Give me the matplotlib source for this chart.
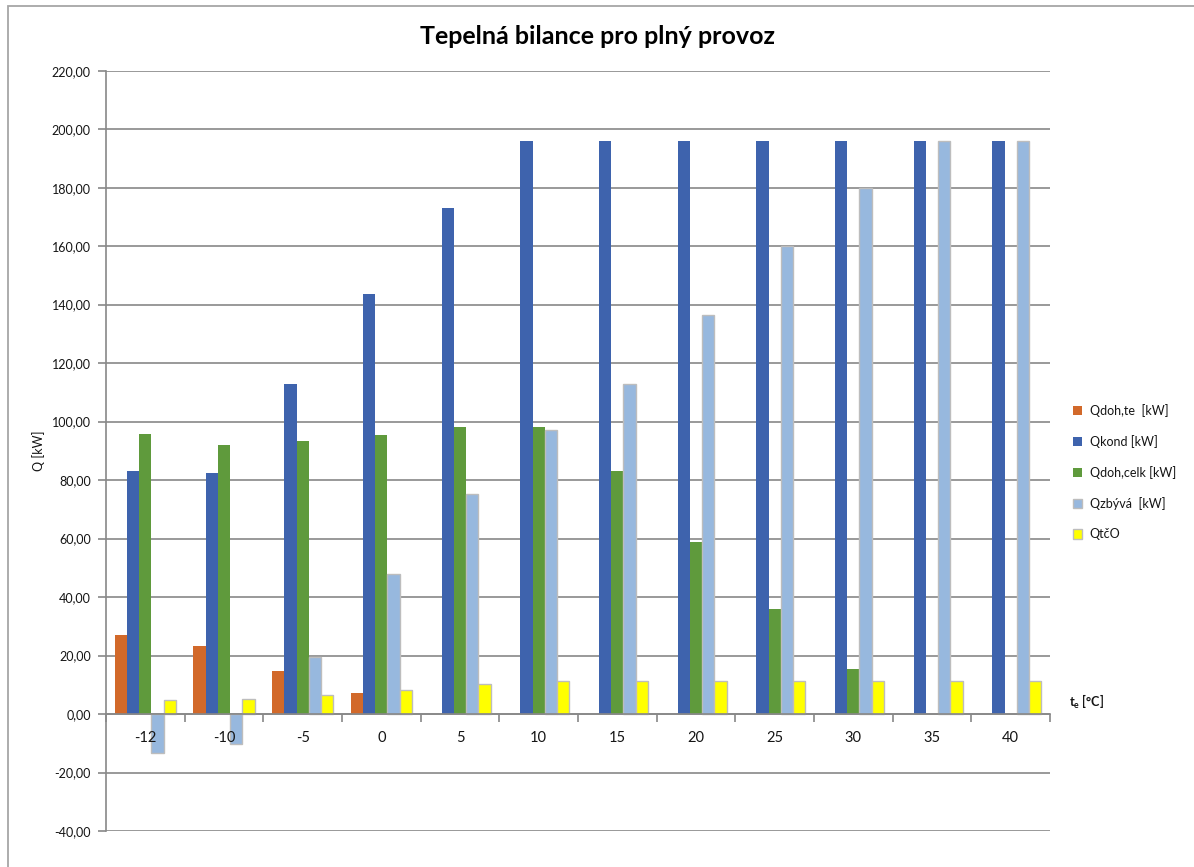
import matplotlib
matplotlib.use("Agg")
import matplotlib.pyplot as plt
import numpy as np
from matplotlib.patches import Rectangle
from matplotlib.ticker import FixedLocator, FuncFormatter, NullFormatter
from matplotlib.transforms import offset_copy

plt.rcParams['font.family'] = ['Lato', 'DejaVu Sans']

categories = ['-12', '-10', '-5', '0', '5', '10', '15', '20', '25', '30', '35', '40']

q_doh_te = [27.1, 23.3, 14.7, 7.2, 0, 0, 0, 0, 0, 0, 0, 0]
q_kond = [83.2, 82.5, 113.0, 143.5, 173.2, 196.0, 196.0, 196.0, 196.0, 196.0, 196.0, 196.0]
q_doh_celk = [95.9, 92.1, 93.5, 95.5, 98.0, 98.0, 83.2, 59.0, 36.0, 15.4, 0, 0]
q_zbyva = [-13.4, -10.3, 19.5, 48.0, 75.3, 97.3, 112.7, 136.6, 160.0, 180.0, 196.0, 196.0]
q_tco = [4.8, 5.0, 6.5, 8.2, 10.3, 11.3, 11.3, 11.3, 11.3, 11.3, 11.3, 11.3]

series = [
    ('Qdoh,te  [kW]', q_doh_te, '#D2692A', 'none'),
    ('Qkond [kW]', q_kond, '#3E63AD', 'none'),
    ('Qdoh,celk [kW]', q_doh_celk, '#5F9A3C', 'none'),
    ('Qzbývá  [kW]', q_zbyva, '#97B8DE', '#BDBDBD'),
    ('QtčO', q_tco, '#FFFF00', '#BDBDBD'),
]

W, H = 1194, 867
fig = plt.figure(figsize=(W / 100, H / 100), dpi=100)
ax = fig.add_axes([106 / W, 1 - 831 / H, (1050 - 106) / W, (831 - 70.7) / H])

x = np.arange(len(categories))
bw = 0.156
n = len(series)
for i, (label, vals, color, edge) in enumerate(series):
    offs = (i - (n - 1) / 2) * bw
    ax.bar(x + offs, vals, width=bw, color=color, edgecolor=edge,
           linewidth=1.0 if edge != 'none' else 0, label=label, zorder=3)

grid_c = '#888888'
txt_c = '#151515'
ax.set_xlim(-0.5, len(categories) - 0.5)
ax.set_ylim(-40, 220)
ax.set_yticks(np.arange(-40, 221, 20))
ax.yaxis.set_major_formatter(FuncFormatter(lambda v, p: f"{v:.2f}".replace('.', ',')))
ax.grid(axis='y', color=grid_c, linewidth=1.2, zorder=0)
ax.tick_params(axis='y', length=6, width=1.2, color=grid_c, labelsize=9,
               labelcolor=txt_c, pad=5)

for s in ['top', 'right']:
    ax.spines[s].set_visible(False)
ax.spines['left'].set_color(grid_c)
ax.spines['left'].set_linewidth(1.2)
ax.spines['bottom'].set_position(('data', 0))
ax.spines['bottom'].set_color(grid_c)
ax.spines['bottom'].set_linewidth(1.2)
ax.spines['bottom'].set_zorder(4)

# boundary ticks on the zero line; category names drawn above the bars
ax.xaxis.set_major_locator(FixedLocator(np.arange(-0.5, len(categories), 1.0)))
ax.xaxis.set_major_formatter(NullFormatter())
ax.tick_params(axis='x', which='major', length=6, width=1.2, color=grid_c, direction='out')
lab_tr = offset_copy(ax.transData, fig=fig, x=0, y=-12, units='points')
for xi, name in zip(x, categories):
    ax.text(xi, 0, name, transform=lab_tr, ha='center', va='top', fontsize=10.5,
            color=txt_c, zorder=6, clip_on=False)

ax.set_ylabel('Q [kW]', fontsize=9, color=txt_c, labelpad=5)

fig.text(598 / W, 1 - 37 / H, 'Tepelná bilance pro plný provoz', ha='center', va='center',
         fontsize=18, fontweight='bold', color='#000000')
fig.text(1069 / W, 1 - 702 / H, 't$_\\mathregular{e}$ [°C]', ha='left', va='center',
         fontsize=9, fontweight='bold', color=txt_c)

handles, labels = ax.get_legend_handles_labels()
leg = fig.legend(handles, labels, loc='upper left', bbox_to_anchor=(1068 / W, 1 - 399 / H),
                 frameon=False, fontsize=9, handlelength=0.75, handleheight=0.75,
                 handletextpad=0.6, labelspacing=1.45, borderaxespad=0)
for t in leg.get_texts():
    t.set_color(txt_c)

fig.patches.append(Rectangle((8 / W, -0.1), 1.2, 1.1 - 6 / H, transform=fig.transFigure,
                             fill=False, edgecolor='#A6A6A6', linewidth=1.3))

fig.savefig('out.png', dpi=100)
